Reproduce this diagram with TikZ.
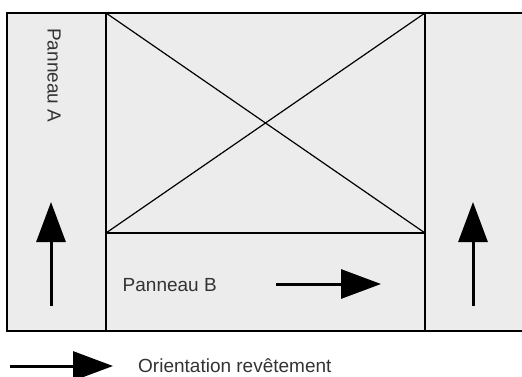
\documentclass[tikz,border=0pt]{standalone}
\usepackage{fontspec}
\setmainfont{Liberation Sans}
\usetikzlibrary{arrows.meta}
\definecolor{panelgray}{HTML}{ECECEC}
\definecolor{textgray}{HTML}{333333}
\tikzset{
  panel/.style={fill=panelgray, draw=black, line width=1.4pt},
  divider/.style={draw=black, line width=1.4pt},
  cross/.style={draw=black, line width=1.2pt},
  bigarrow/.style={line width=3pt, -{Triangle[length=40pt,width=29pt]}},
  lbl/.style={inner sep=0pt, text=textgray, font=\fontsize{19}{22}\selectfont}
}
\begin{document}
\begin{tikzpicture}[x=1pt,y=1pt]
\useasboundingbox (0,0) rectangle (522,376);
% outer panel
\draw[panel] (7,45) rectangle (526,363);
% dividers
\coordinate (lt) at (106,363);
\coordinate (lb) at (106,45);
\coordinate (rt) at (425,363);
\coordinate (rb) at (425,45);
\coordinate (bl) at (106,143);
\coordinate (br) at (425,143);
\draw[divider, line width=2pt] (lt) -- (lb);
\draw[divider] (rt) -- (rb);
\draw[divider] (bl) -- (br);
% cross
\draw[cross] (lt) -- (br);
\draw[cross] (bl) -- (rt);
% arrows
\coordinate (a1s) at (51,70);
\coordinate (a1e) at (51,174);
\coordinate (a2s) at (473,70);
\coordinate (a2e) at (473,174);
\coordinate (a3s) at (276,92);
\coordinate (a3e) at (381,92);
\coordinate (a4s) at (10,10);
\coordinate (a4e) at (113,10);
\draw[bigarrow] (a1s) -- (a1e);
\draw[bigarrow] (a2s) -- (a2e);
\draw[bigarrow] (a3s) -- (a3e);
\draw[bigarrow] (a4s) -- (a4e);
% labels
\node[lbl, rotate=-90, anchor=base west] (pa) at (47.5,348) {Panneau A};
\node[lbl, anchor=base west] (pb) at (122.5,85) {Panneau B};
\node[lbl, anchor=base west] (leg) at (138,3.5) {Orientation revêtement};
\end{tikzpicture}
\end{document}
